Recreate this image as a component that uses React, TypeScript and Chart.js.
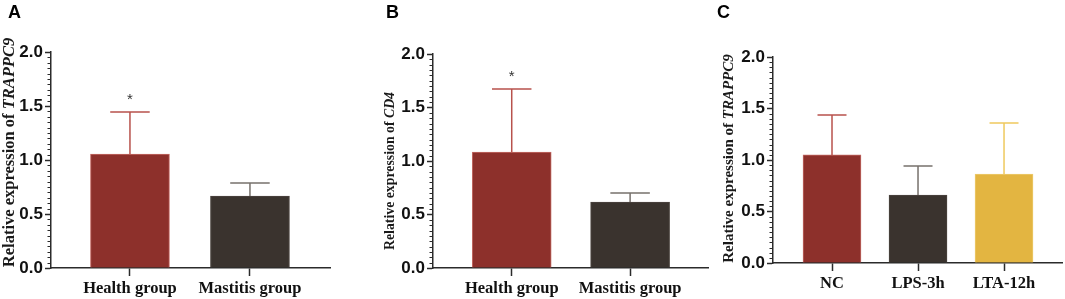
import React, { useEffect, useRef } from 'react';
import { Chart, registerables } from 'chart.js';

Chart.register(...registerables);

// ---------- data ----------
const groupsAB = ['Health group', 'Mastitis group'];
const valuesA = [1.055, 0.667];
const errorsA = [0.39, 0.12];
const sigA = ['*', ''];

const valuesB = [1.084, 0.617];
const errorsB = [0.59, 0.083];
const sigB = ['*', ''];

const groupsC = ['NC', 'LPS-3h', 'LTA-12h'];
const valuesC = [1.049, 0.66, 0.864];
const errorsC = [0.388, 0.282, 0.495];
const sigC = ['', '', ''];

const yTickValues = [0, 0.5, 1.0, 1.5, 2.0];

// ---------- styles ----------
const RED = '#8D302B';
const DARK = '#3A332E';
const YELLOW = '#E3B541';
const RED_EDGE = '#C46A65';
const DARK_EDGE = '#4C4540';
const YELLOW_EDGE = '#EDCB6E';
const RED_ERR = '#B8524C';
const DARK_ERR = '#77716C';
const YELLOW_ERR = '#EFC95E';
const AXIS = '#2b2b2b';

const W = 355;
const H = 299;

type Spec = {
  left: number;
  letter: string;
  letterX: number;
  labels: string[];
  values: number[];
  errors: number[];
  sig: string[];
  fills: string[];
  edges: string[];
  errColors: string[];
  titleMain: string;
  titleItalic: string;
  titleSize: number;
  titleX: number;
  titleCY: number;
  area: { l: number; r: number; t: number; b: number };
  xMin: number;
  xMax: number;
  barThickness: number;
};

const panels: Spec[] = [
  {
    left: 0,
    letter: 'A',
    letterX: 8,
    labels: groupsAB,
    values: valuesA,
    errors: errorsA,
    sig: sigA,
    fills: [RED, DARK],
    edges: [RED_EDGE, DARK_EDGE],
    errColors: [RED_ERR, DARK_ERR],
    titleMain: 'Relative expression of ',
    titleItalic: 'TRAPPC9',
    titleSize: 16.5,
    titleX: 14,
    titleCY: 152.5,
    area: { l: 51, r: 330, t: 52, b: 268 },
    xMin: -0.658,
    xMax: 1.667,
    barThickness: 79,
  },
  {
    left: 355,
    letter: 'B',
    letterX: 31,
    labels: groupsAB,
    values: valuesB,
    errors: errorsB,
    sig: sigB,
    fills: [RED, DARK],
    edges: [RED_EDGE, DARK_EDGE],
    errColors: [RED_ERR, DARK_ERR],
    titleMain: 'Relative expression of ',
    titleItalic: 'CD4',
    titleSize: 13.8,
    titleX: 39,
    titleCY: 171,
    area: { l: 78, r: 353, t: 54, b: 268 },
    xMin: -0.665,
    xMax: 1.658,
    barThickness: 79,
  },
  {
    left: 710,
    letter: 'C',
    letterX: 7,
    labels: groupsC,
    values: valuesC,
    errors: errorsC,
    sig: sigC,
    fills: [RED, DARK, YELLOW],
    edges: [RED_EDGE, DARK_EDGE, YELLOW_EDGE],
    errColors: [RED_ERR, DARK_ERR, YELLOW_ERR],
    titleMain: 'Relative expression of ',
    titleItalic: 'TRAPPC9',
    titleSize: 15,
    titleX: 23,
    titleCY: 158.5,
    area: { l: 63, r: 352, t: 57, b: 263 },
    xMin: -0.686,
    xMax: 2.674,
    barThickness: 58,
  },
];

function buildChart(canvas: HTMLCanvasElement, s: Spec) {
  const decor = {
    id: 'decor',
    afterDatasetsDraw(chart: any) {
      const ctx = chart.ctx as CanvasRenderingContext2D;
      const ys = chart.scales.y;
      const meta = chart.getDatasetMeta(0);
      ctx.save();
      // error bars (upper only)
      s.values.forEach((v, i) => {
        const el = meta.data[i];
        if (!el) return;
        const x = el.x;
        const yBar = ys.getPixelForValue(v);
        const yTop = ys.getPixelForValue(v + s.errors[i]);
        const half = s.barThickness / 4;
        ctx.strokeStyle = s.errColors[i];
        ctx.lineWidth = 1.5;
        ctx.beginPath();
        ctx.moveTo(x, yBar);
        ctx.lineTo(x, yTop);
        ctx.moveTo(x - half, yTop);
        ctx.lineTo(x + half, yTop);
        ctx.stroke();
        if (s.sig[i]) {
          ctx.fillStyle = '#333';
          ctx.font = '15px "Liberation Sans", Arial, sans-serif';
          ctx.textAlign = 'center';
          ctx.textBaseline = 'alphabetic';
          ctx.fillText(s.sig[i], x, yTop - 8);
        }
      });
      ctx.restore();
    },
    afterDraw(chart: any) {
      const ctx = chart.ctx as CanvasRenderingContext2D;
      const ys = chart.scales.y;
      const area = chart.chartArea;
      ctx.save();
      // minor ticks every 0.05
      ctx.strokeStyle = AXIS;
      ctx.lineWidth = 1;
      ctx.beginPath();
      for (let k = 0; k <= 40; k++) {
        if (k % 10 === 0) continue;
        const y = Math.round(ys.getPixelForValue(k * 0.05)) + 0.5;
        ctx.moveTo(area.left, y);
        ctx.lineTo(area.left - 3.5, y);
      }
      ctx.stroke();
      // panel letter
      ctx.fillStyle = '#000';
      ctx.font = 'bold 18px "Liberation Sans", Arial, sans-serif';
      ctx.textAlign = 'left';
      ctx.textBaseline = 'alphabetic';
      ctx.fillText(s.letter, s.letterX, 18);
      // y axis title
      const f1 = `bold ${s.titleSize}px "Liberation Serif", "Times New Roman", serif`;
      const f2 = `italic bold ${s.titleSize}px "Liberation Serif", "Times New Roman", serif`;
      ctx.font = f1;
      const w1 = ctx.measureText(s.titleMain).width;
      ctx.font = f2;
      const w2 = ctx.measureText(s.titleItalic).width;
      const total = w1 + w2;
      ctx.translate(s.titleX, s.titleCY);
      ctx.rotate(-Math.PI / 2);
      ctx.fillStyle = '#1a1a1a';
      ctx.font = f1;
      ctx.fillText(s.titleMain, -total / 2, 0);
      ctx.font = f2;
      ctx.fillText(s.titleItalic, -total / 2 + w1, 0);
      ctx.restore();
    },
  };

  return new Chart(canvas, {
    type: 'bar',
    data: {
      datasets: [
        {
          data: s.values.map((v, i) => ({ x: i, y: v })),
          backgroundColor: s.fills,
          borderColor: s.edges,
          borderWidth: 1,
          barThickness: s.barThickness,
        },
      ],
    },
    options: {
      responsive: false,
      animation: false,
      devicePixelRatio: 1,
      layout: {
        padding: { left: 0, top: s.area.t, right: W - s.area.r, bottom: 0 },
      },
      plugins: {
        legend: { display: false },
        tooltip: { enabled: false },
        title: { display: false },
      },
      scales: {
        x: {
          type: 'linear',
          offset: false,
          min: s.xMin,
          max: s.xMax,
          afterBuildTicks: (scale: any) => {
            scale.ticks = s.labels.map((_, i) => ({ value: i }));
          },
          afterFit: (scale: any) => {
            scale.height = H - s.area.b;
          },
          grid: {
            display: true,
            offset: false,
            drawOnChartArea: false,
            drawTicks: true,
            tickLength: 8,
            tickWidth: 1.5,
            tickColor: AXIS,
          },
          border: { display: true, color: AXIS, width: 1.5 },
          ticks: {
            autoSkip: false,
            maxRotation: 0,
            padding: 3,
            color: '#111',
            font: { family: '"Liberation Serif", "Times New Roman", serif', size: 16.5, weight: 'bold' },
            callback: (v: any) => s.labels[v] ?? '',
          },
        },
        y: {
          min: 0,
          max: 2,
          afterBuildTicks: (scale: any) => {
            scale.ticks = yTickValues.map((v) => ({ value: v }));
          },
          afterFit: (scale: any) => {
            scale.width = s.area.l;
          },
          grid: {
            display: true,
            drawOnChartArea: false,
            drawTicks: true,
            tickLength: 6,
            tickWidth: 1.5,
            tickColor: AXIS,
          },
          border: { display: true, color: AXIS, width: 1.5 },
          ticks: {
            padding: 2,
            color: '#111',
            font: { family: '"Liberation Sans", Arial, sans-serif', size: 17, weight: 'bold' },
            callback: (v: any) => Number(v).toFixed(1),
          },
        },
      },
    },
    plugins: [decor],
  } as any);
}

function Panel({ spec }: { spec: Spec }) {
  const ref = useRef<HTMLCanvasElement | null>(null);
  useEffect(() => {
    if (!ref.current) return;
    const chart = buildChart(ref.current, spec);
    return () => chart.destroy();
  }, [spec]);
  return (
    <canvas
      ref={ref}
      width={W}
      height={H}
      style={{ position: 'absolute', left: spec.left, top: 0, width: W, height: H, display: 'block' }}
    />
  );
}

export default function App() {
  return (
    <div style={{ position: 'absolute', left: 0, top: 0, width: 1065, height: 299, background: '#fff', overflow: 'hidden' }}>
      {panels.map((p) => (
        <Panel key={p.letter} spec={p} />
      ))}
    </div>
  );
}
